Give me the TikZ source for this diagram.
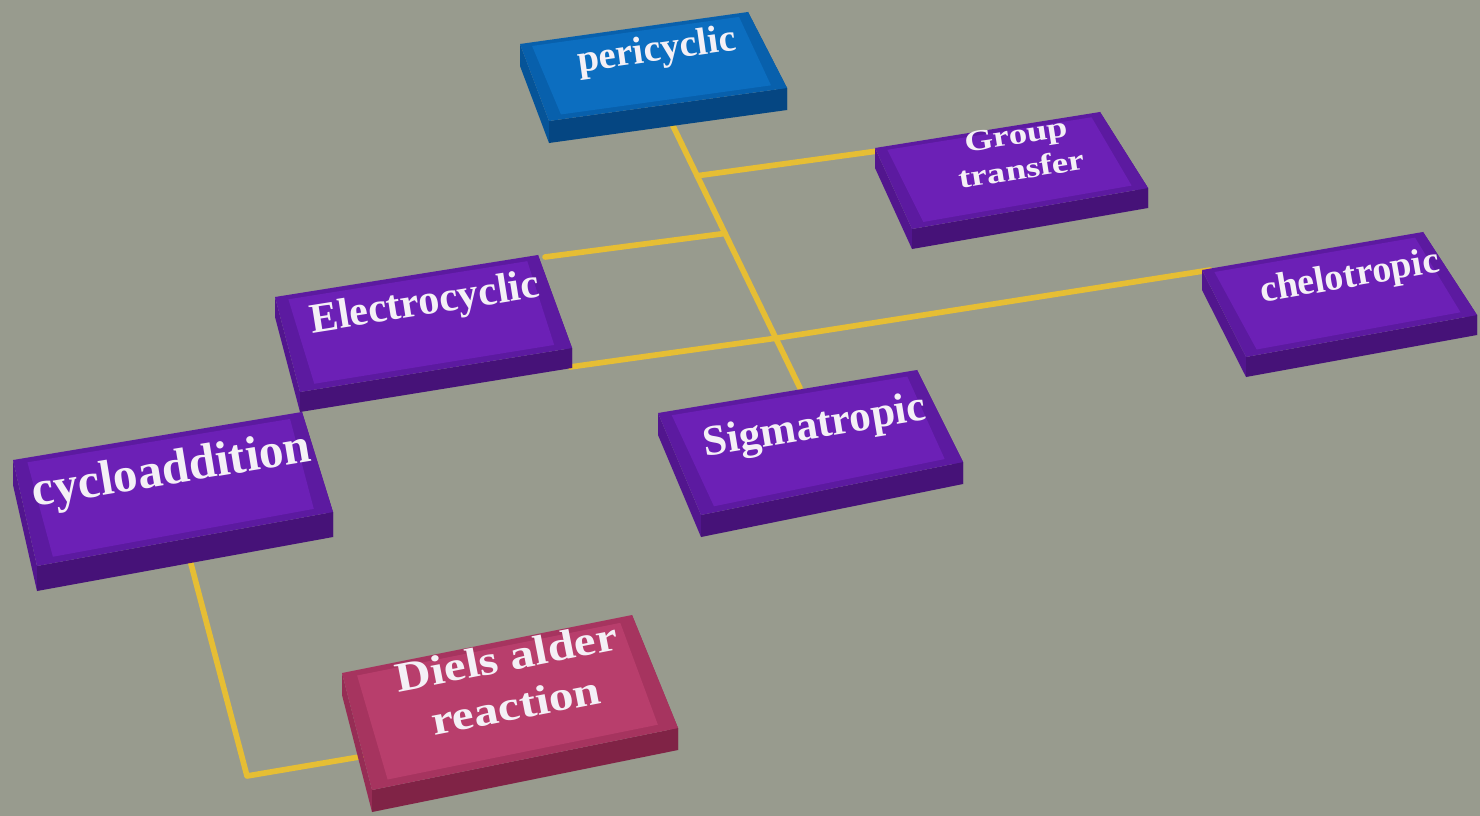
\documentclass[tikz,border=0pt]{standalone}
\usepackage{fontspec}
\setmainfont{Liberation Serif}
\usetikzlibrary{calc}
\definecolor{bg}{RGB}{152,155,142}
\definecolor{wire}{RGB}{230,190,52}
\definecolor{ptop}{RGB}{108,32,182}
\definecolor{pedge}{RGB}{92,26,160}
\definecolor{pside}{RGB}{82,22,142}
\definecolor{pfront}{RGB}{70,18,120}
\definecolor{btop}{RGB}{12,110,192}
\definecolor{bedge}{RGB}{8,96,172}
\definecolor{bside}{RGB}{6,84,152}
\definecolor{bfront}{RGB}{5,70,130}
\definecolor{rtop}{RGB}{184,62,108}
\definecolor{redge}{RGB}{166,52,95}
\definecolor{rside}{RGB}{150,45,85}
\definecolor{rfront}{RGB}{128,35,70}
\definecolor{txtc}{RGB}{244,240,246}
\newcommand{\slabbox}[7]{%
  \coordinate (#1-a) at #2; \coordinate (#1-b) at #3;
  \coordinate (#1-c) at #4; \coordinate (#1-d) at #5;
  \coordinate (#1-A) at ([yshift=-#6]#1-a); \coordinate (#1-B) at ([yshift=-#6]#1-b);
  \coordinate (#1-C) at ([yshift=-#6]#1-c); \coordinate (#1-D) at ([yshift=-#6]#1-d);
  \fill[#7side] (#1-a) -- (#1-d) -- (#1-D) -- (#1-A) -- cycle;
  \fill[#7side] (#1-b) -- (#1-c) -- (#1-C) -- (#1-B) -- cycle;
  \fill[#7front] (#1-d) -- (#1-c) -- (#1-C) -- (#1-D) -- cycle;
  \fill[#7edge] (#1-a) -- (#1-b) -- (#1-c) -- (#1-d) -- cycle;
  \fill[#7top] ($(#1-a)!0.045!(#1-c)$) -- ($(#1-b)!0.045!(#1-d)$) -- ($(#1-c)!0.06!(#1-a)$) -- ($(#1-d)!0.06!(#1-b)$) -- cycle;
}
\tikzset{
  txt/.style={text=txtc, align=center, inner sep=0pt},
  link/.style={draw=wire, line width=1.6pt, line cap=round, line join=round}
}
\begin{document}
\begin{tikzpicture}[x=0.01cm,y=-0.01cm]
\fill[bg] (0,0) rectangle (1480,816);
\useasboundingbox (0,0) rectangle (1480,816);
% anchor coordinates for connectors
\coordinate (t0) at (673,126);
\coordinate (t1) at (800,388);
\coordinate (j1) at ($(t0)!0.19!(t1)$);
\coordinate (j2) at ($(t0)!0.41!(t1)$);
\coordinate (j3) at ($(t0)!0.81!(t1)$);
\coordinate (gtL) at (885,150);
\coordinate (ecR1) at (545,257);
\coordinate (ecR2) at (570,367);
\coordinate (chL) at (1210,270);
\coordinate (cyB) at (190,560);
\coordinate (bend) at (247,776);
\coordinate (daL) at (365,756);
% connectors
\draw[link] (t0) -- (t1);
\draw[link] (j1) -- (gtL);
\draw[link] (j2) -- (ecR1);
\draw[link] (j3) -- (ecR2);
\draw[link] (j3) -- (chL);
\draw[link] (cyB) -- (bend) -- (daL);
% boxes
\slabbox{per}{(520,44)}{(748,12)}{(787,88)}{(549,121)}{0.22cm}{b}
\slabbox{grp}{(875,148)}{(1100,112)}{(1148,188)}{(912,229)}{0.2cm}{p}
\slabbox{ele}{(275,297)}{(538,255)}{(572,348)}{(300,392)}{0.2cm}{p}
\slabbox{che}{(1202,270)}{(1423,232)}{(1477,315)}{(1246,357)}{0.2cm}{p}
\slabbox{cyc}{(13,460)}{(302,412)}{(333,512)}{(37,566)}{0.25cm}{p}
\slabbox{sig}{(658,413)}{(917,370)}{(963,462)}{(701,515)}{0.22cm}{p}
\slabbox{dia}{(342,673)}{(632,615)}{(678,728)}{(372,790)}{0.22cm}{r}
% labels
\node[txt, rotate=8, font=\bfseries\fontsize{11}{11}\selectfont] (perT) at (657,52) {pericyclic};
\node[txt, rotate=9, yscale=0.8, font=\bfseries\fontsize{10.5}{12.5}\selectfont] (grpT) at (1019,152) {Group\\transfer};
\node[txt, rotate=9, font=\bfseries\fontsize{12}{12}\selectfont] (eleT) at (425,305) {Electrocyclic};
\node[txt, rotate=9.8, font=\bfseries\fontsize{10.8}{11}\selectfont] (cheT) at (1350,278) {chelotropic};
\node[txt, rotate=9.4, font=\bfseries\fontsize{14}{14}\selectfont] (cycT) at (172,472) {cycloaddition};
\node[txt, rotate=9.4, font=\bfseries\fontsize{12.3}{12}\selectfont] (sigT) at (815,428) {Sigmatropic};
\node[txt, rotate=11, yscale=0.85, font=\bfseries\fontsize{14}{16.5}\selectfont] (diaT) at (511,681) {Diels alder\\reaction};
\end{tikzpicture}
\end{document}
